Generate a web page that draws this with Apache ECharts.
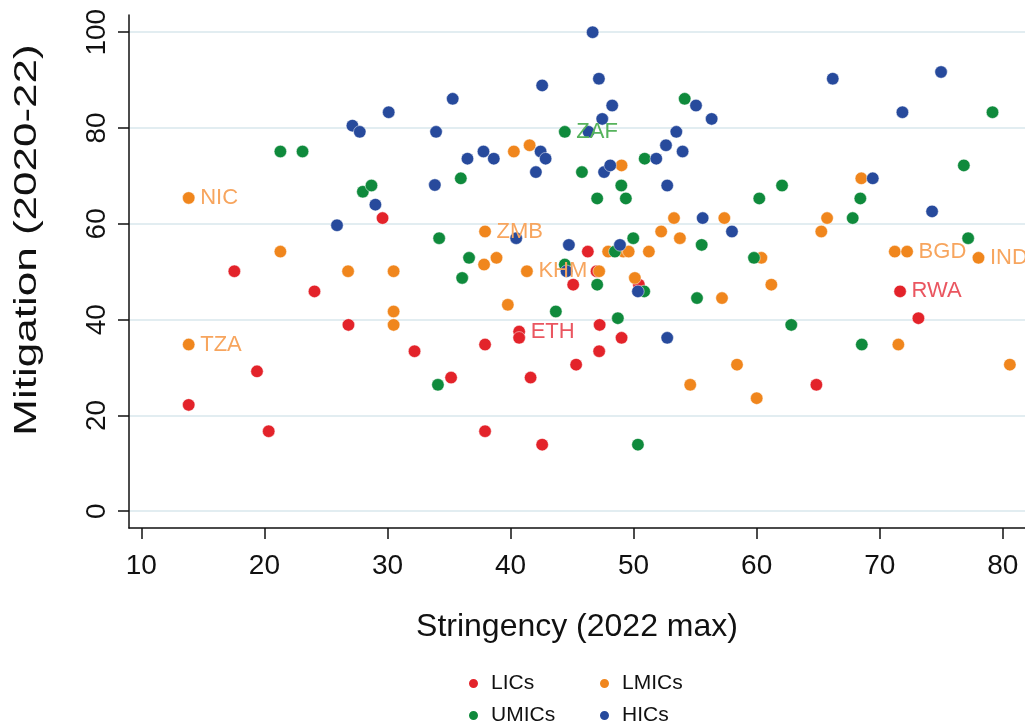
<!DOCTYPE html>
<html>
<head>
<meta charset="utf-8">
<script src="https://cdn.jsdelivr.net/npm/echarts@6/dist/echarts.min.js"></script>
<style>
  html, body { margin: 0; padding: 0; background: #fff; }
  #chart { width: 1025px; height: 725px; }
</style>
</head>
<body>
<div id="chart"></div>
<script>
// [stringency, mitigation, optional country code]
var lics = [
  [13.85, 22.2], [17.56, 50.1], [19.4, 29.2], [20.35, 16.7], [24.07, 45.9],
  [26.83, 38.9], [29.6, 61.2], [32.2, 33.4], [35.17, 27.9], [37.93, 34.8],
  [37.93, 16.7], [40.7, 37.5, 'ETH'], [40.7, 36.2], [41.63, 27.9], [42.57, 13.9],
  [45.09, 47.3], [45.33, 30.6], [46.28, 54.2], [46.99, 50.1], [47.2, 33.4],
  [47.24, 38.9], [49.02, 36.2], [50.43, 47.3], [64.85, 26.4], [71.65, 45.9, 'RWA'],
  [73.14, 40.3]
]
var lmics = [
  [13.85, 65.4, 'NIC'], [13.85, 34.8, 'TZA'], [21.3, 54.2], [26.8, 50.1], [30.5, 50.1],
  [30.5, 41.7], [30.5, 38.9], [37.93, 58.4, 'ZMB'], [37.85, 51.5], [38.86, 52.9],
  [39.78, 43.1], [40.27, 75.1], [41.55, 76.4], [41.33, 50.1, 'KHM'], [47.2, 50.1],
  [47.93, 54.2], [49.16, 54.2], [49.6, 54.2], [49.02, 72.2], [50.1, 48.7],
  [51.24, 54.2], [52.24, 58.4], [53.28, 61.2], [53.76, 57.0], [54.6, 26.4],
  [57.18, 44.5], [57.37, 61.2], [58.4, 30.6], [60.0, 23.6], [60.38, 52.9],
  [61.19, 47.3], [65.25, 58.4], [65.72, 61.2], [68.5, 69.5], [71.22, 54.2],
  [72.22, 54.2, 'BGD'], [71.51, 34.8], [78.02, 52.9, 'IND'], [80.57, 30.6]
]
var umics = [
  [21.3, 75.1], [23.1, 75.1], [28.0, 66.7], [28.7, 68.0], [34.2, 57.0],
  [34.1, 26.4], [35.96, 69.5], [36.07, 48.7], [36.63, 52.9], [43.68, 41.7],
  [44.41, 79.2, 'ZAF'], [44.41, 51.5], [45.8, 70.8], [47.04, 65.3], [47.04, 47.3],
  [48.48, 54.2], [48.72, 40.3], [49.0, 68.0], [49.37, 65.3], [49.97, 57.0],
  [50.35, 13.9], [50.86, 45.9], [50.9, 73.6], [54.15, 86.1], [55.15, 44.5],
  [55.53, 55.6], [59.78, 52.9], [60.21, 65.3], [62.06, 68.0], [62.81, 38.9],
  [67.8, 61.2], [68.42, 65.3], [68.54, 34.8], [76.83, 72.2], [77.18, 57.0],
  [79.16, 83.3]
]
var hics = [
  [25.9, 59.7], [27.15, 80.5], [27.75, 79.2], [29.02, 64.0], [30.1, 83.3],
  [33.85, 68.1], [33.95, 79.2], [35.3, 86.1], [36.5, 73.6], [37.8, 75.1],
  [38.64, 73.6], [40.46, 57.0], [42.06, 70.8], [42.44, 75.1], [42.57, 88.9],
  [42.85, 73.6], [44.55, 50.1], [44.74, 55.6], [46.34, 79.2], [46.67, 100.0],
  [47.18, 90.3], [47.45, 81.9], [47.6, 70.8], [48.1, 72.2], [48.26, 84.7],
  [48.89, 55.6], [50.35, 45.9], [51.84, 73.6], [52.63, 76.4], [52.73, 68.0],
  [52.73, 36.2], [53.47, 79.2], [53.98, 75.1], [55.07, 84.7], [55.61, 61.2],
  [56.34, 81.9], [57.99, 58.4], [66.18, 90.3], [69.43, 69.5], [71.84, 83.3],
  [74.25, 62.6], [74.98, 91.7]
]
var groups = ['LICs', 'LMICs', 'UMICs', 'HICs']
var xTicks = [10, 20, 30, 40, 50, 60, 70, 80]
var yTicks = [0, 20, 40, 60, 80, 100]

var colors = ['#e3232a', '#f0861d', '#0f8a3c', '#274a9c']
var labelColors = ['#ea5660', '#f7a55e', '#56b35c', '#5a78c0']
var font = '"Liberation Sans", Arial, sans-serif'

function makeSeries(name, data, i) {
  return {
    name: name,
    type: 'scatter',
    data: data,
    symbolSize: 12.5,
    itemStyle: { color: colors[i], opacity: 1, borderColor: '#fff', borderWidth: 0.5 },
    label: {
      show: true,
      position: 'right',
      distance: 5,
      formatter: function (p) { return p.value[2] || '' },
      color: labelColors[i],
      fontFamily: font,
      fontSize: 22
    },
    emphasis: { disabled: true }
  }
}

function legendAt(name, left, top) {
  return {
    data: [name],
    left: left,
    top: top,
    icon: 'circle',
    itemWidth: 11,
    itemHeight: 11,
    selectedMode: false,
    textStyle: { fontFamily: font, fontSize: 21, color: '#111', padding: [0, 0, 0, 7] }
  }
}

var chart = echarts.init(document.getElementById('chart'))
chart.setOption({
  animation: false,
  textStyle: { fontFamily: font },
  grid: { left: 129, right: 0, top: 15, bottom: 197 },
  legend: [
    legendAt('LICs', 462, 668),
    legendAt('LMICs', 593, 668),
    legendAt('UMICs', 462, 700),
    legendAt('HICs', 593, 700)
  ],
  // y title drawn stretched along its length, as in the source image
  graphic: [{
    type: 'text',
    x: 27,
    y: 240,
    rotation: Math.PI / 2,
    scaleX: 1.42,
    style: {
      text: 'Mitigation (2020-22)',
      font: '31px ' + font,
      fill: '#111',
      align: 'center',
      verticalAlign: 'middle'
    }
  }],
  xAxis: {
    type: 'value',
    min: 9.0,
    max: 81.8,
    name: 'Stringency (2022 max)',
    nameLocation: 'middle',
    nameGap: 83,
    nameTextStyle: { fontSize: 32, color: '#111', fontFamily: font },
    axisLine: { show: true, onZero: false, lineStyle: { color: '#111', width: 1.5 } },
    axisTick: { show: true, inside: false, length: 11, lineStyle: { color: '#111', width: 1.5 }, customValues: xTicks },
    axisLabel: { fontSize: 28, color: '#111', margin: 24, customValues: xTicks },
    splitLine: { show: false }
  },
  yAxis: {
    type: 'value',
    min: -3.5,
    max: 103.6,
    axisLine: { show: true, onZero: false, lineStyle: { color: '#111', width: 1.5 } },
    axisTick: { show: true, inside: false, length: 11, lineStyle: { color: '#111', width: 1.5 }, customValues: yTicks },
    axisLabel: { fontSize: 28, color: '#111', margin: 18, rotate: 90, customValues: yTicks },
    splitLine: { show: true, lineStyle: { color: '#e2edf1', width: 2 } },
    interval: 20
  },
  series: [
    makeSeries(groups[0], lics, 0),
    makeSeries(groups[1], lmics, 1),
    makeSeries(groups[2], umics, 2),
    makeSeries(groups[3], hics, 3)
  ]
})
</script>
</body>
</html>
